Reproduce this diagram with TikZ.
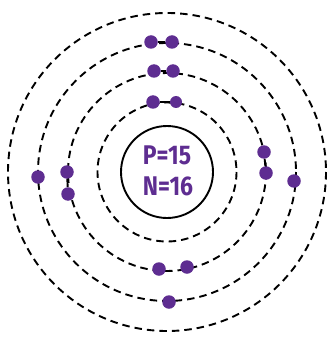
\documentclass[tikz,border=0pt]{standalone}
\usepackage{fontspec}
\setsansfont{Fira Sans}
\definecolor{elec}{RGB}{94,45,145}
\begin{document}
\begin{tikzpicture}[x=1pt,y=-1pt,
  shell/.style={draw=black,line width=1.9pt,dash pattern=on 7.5pt off 5pt},
  nucleus/.style={circle,draw=black,line width=1.9pt,minimum size=92pt,inner sep=0pt},
  e/.style={circle,fill=elec,inner sep=0pt,minimum size=13.5pt},
  link/.style={draw=black,line width=1.9pt},
  lbl/.style={text=elec,font=\sffamily\bfseries\fontsize{27}{27}\selectfont,inner sep=0pt,xscale=0.85}]
\useasboundingbox (0,0) rectangle (327,339);
\coordinate (c) at (167,172);
\draw[shell] (c) circle[radius=69.5];
\draw[shell] (c) circle[radius=99];
\draw[shell] (c) circle[radius=129];
\draw[shell] (c) circle[radius=159];
\node[nucleus] (nuc) at (c) {};
\node[lbl] (p) at (167,155) {P=15};
\node[lbl] (n) at (168,186) {N=16};
% shell 1
\node[e] (a1) at (153,102) {};
\node[e,minimum size=12pt] (a2) at (176,102) {};
% shell 2
\node[e] (b1) at (154,71) {};
\node[e] (b2) at (173,71) {};
\node[e] (b3) at (67,172) {};
\node[e] (b4) at (68,194) {};
\node[e] (b5) at (264,152) {};
\node[e] (b6) at (266,173) {};
\node[e] (b7) at (159,269) {};
\node[e] (b8) at (187,267) {};
% shell 3
\node[e] (c1) at (151,42) {};
\node[e] (c2) at (172,42) {};
\node[e] (c3) at (38,177) {};
\node[e] (c4) at (294,181) {};
\node[e] (c5) at (169,302) {};
% short solid links between paired electrons
\draw[link] (a1) -- (a2);
\draw[link] (b1) -- (b2);
\draw[link] (b3) -- (b4);
\draw[link] (b5) -- (b6);
\draw[link] (c1) -- (c2);
\end{tikzpicture}
\end{document}
